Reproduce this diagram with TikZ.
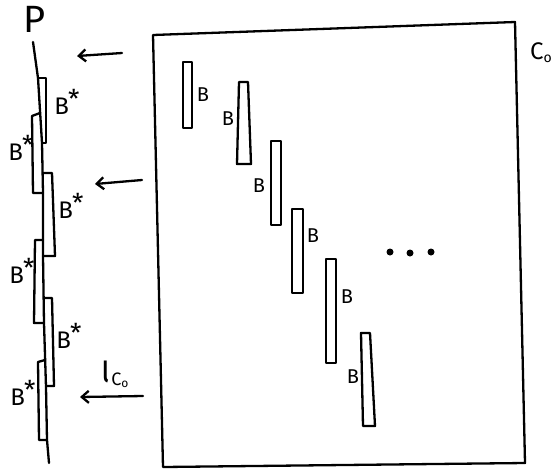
\documentclass[tikz,border=0pt]{standalone}
\usepackage{fontspec}
\setsansfont{Fira Sans}
\usetikzlibrary{arrows.meta}
\begin{document}
\begin{tikzpicture}[x=1pt,y=-1pt,line width=2.3pt,line join=round,line cap=round,
  lbl/.style={inner sep=0pt,font=\sffamily\fontsize{20}{20}\selectfont},
  slbl/.style={inner sep=0pt,font=\sffamily\fontsize{24}{24}\selectfont},
  arr/.style={-{Straight Barb[length=7pt,width=12pt]},line width=2.3pt}]
\newcommand{\bstar}{B\hspace{-1pt}\raisebox{6pt}{\fontsize{26}{26}\selectfont *}}
\useasboundingbox (0,0) rectangle (556,472);
% big box C_0
\draw (153,35) -- (515,22) -- (525,463) -- (163,467) -- cycle;
\node[inner sep=0pt,font=\sffamily\fontsize{24}{24}\selectfont] (c0) at (541,53) {C\raisebox{-3pt}{\fontsize{14}{14}\selectfont o}};
% inner blocks B
\draw (183,62) rectangle (192,128);
\node[lbl] (b1) at (203,95) {B};
\draw (239,82) -- (248,82) -- (251,164) -- (237,164) -- cycle;
\node[lbl] (b2) at (228,119) {B};
\draw (271,141) rectangle (281,225);
\node[lbl] (b3) at (259,186) {B};
\draw (292,209) rectangle (303,293);
\node[lbl] (b4) at (313,236) {B};
\draw (326,259) rectangle (336,363);
\node[lbl] (b5) at (347,297) {B};
\draw (361,333) -- (370,333) -- (375,426) -- (363,426) -- cycle;
\node[lbl] (b6) at (353,377) {B};
% dots
\fill (390,252) circle (3.5pt) (410,253) circle (3.5pt) (431,252) circle (3.5pt);
% P line
\node[inner sep=0pt,font=\sffamily\fontsize{38}{38}\selectfont] (p) at (35,19) {P};
\coordinate (ptop) at (33,42);
\coordinate (pbot) at (49,463);
\draw (ptop) -- (38,78) -- (42,143) -- (43,193) -- (43,256) -- (44,323) -- (46,387) -- (47,440) -- (pbot);
% B* blocks
\draw (38,78) -- (46,78) -- (46,143) -- (42,143);
\node[slbl] (s1) at (67,102) {\bstar};
\draw (40,113) -- (32,116) -- (33,193) -- (43,193);
\node[slbl] (s2) at (21,148) {\bstar};
\draw (43,173) -- (52,173) -- (55,256) -- (43,256);
\node[slbl] (s3) at (71,206) {\bstar};
\draw (43,240) -- (35,240) -- (34,323) -- (44,323);
\node[slbl] (s4) at (22,271) {\bstar};
\draw (44,298) -- (52,298) -- (54,386) -- (46,386);
\node[slbl] (s5) at (69,336) {\bstar};
\draw (45,360) -- (38,362) -- (39,440) -- (47,440);
\node[slbl] (s6) at (23,393) {\bstar};
% arrows
\coordinate (a1s) at (122,53); \coordinate (a1e) at (77,56);
\coordinate (a2s) at (142,180); \coordinate (a2e) at (95,184);
\coordinate (a3s) at (143,396); \coordinate (a3e) at (80,397);
\draw[arr] (a1s) -- (a1e);
\draw[arr] (a2s) -- (a2e);
\draw[arr] (a3s) -- (a3e);
\node[inner sep=0pt,font=\sffamily\fontsize{24}{24}\selectfont] (iota) at (115,374) {\scalebox{1.3}[1.7]{ι}\hspace{1pt}\raisebox{-3pt}{\fontsize{18}{18}\selectfont C\raisebox{-2pt}{\fontsize{12}{12}\selectfont o}}};
\end{tikzpicture}
\end{document}
